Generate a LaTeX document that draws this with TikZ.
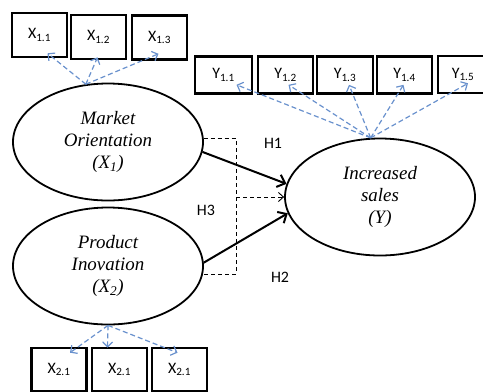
\documentclass[tikz,border=0pt]{standalone}
\usepackage{fontspec}
\setmainfont{Liberation Serif}
\newfontfamily\boxfont{Carlito}
\usetikzlibrary{arrows.meta,shapes.geometric}
\begin{document}
\begin{tikzpicture}[x=1bp,y=-1bp,
  ind/.style={draw,line width=2.6bp,minimum width=55bp,minimum height=44bp,inner sep=0pt,font=\boxfont\fontsize{16}{18}\selectfont},
  lat/.style={draw,ellipse,line width=1.8bp,minimum width=190bp,minimum height=117bp,inner sep=0pt,align=center,font=\itshape\fontsize{19}{22}\selectfont},
  load/.style={draw={rgb,255:red,105;green,145;blue,205},dashed,dash pattern=on 5bp off 3bp,line width=1.2bp,-{Straight Barb[length=5bp,width=10bp]}},
  causal/.style={line width=2bp,-{Straight Barb[length=7bp,width=13bp]}},
  hdash/.style={dashed,dash pattern=on 4bp off 3bp,line width=0.9bp},
  hlab/.style={font=\boxfont\fontsize{16}{18}\selectfont}
]
\useasboundingbox (0,0) rectangle (483,391);
% indicator boxes X1
\node[ind] (x11) at (39.5,35) {X\textsubscript{1.1}};
\node[ind] (x12) at (98.5,37) {X\textsubscript{1.2}};
\node[ind] (x13) at (159.5,37.5) {X\textsubscript{1.3}};
% indicator boxes Y
\node[ind,minimum width=57bp,minimum height=37bp] (y11) at (223.5,75) {Y\textsubscript{1.1}};
\node[ind,minimum width=55bp,minimum height=37bp] (y12) at (285.5,75) {Y\textsubscript{1.2}};
\node[ind,minimum width=56bp,minimum height=37bp] (y13) at (345,75) {Y\textsubscript{1.3}};
\node[ind,minimum width=55bp,minimum height=37bp] (y14) at (404.5,75) {Y\textsubscript{1.4}};
\node[ind,minimum width=50bp,minimum height=37bp] (y15) at (463,74.5) {Y\textsubscript{1.5}};
% indicator boxes X2
\node[ind,minimum height=43bp] (x21) at (59,369.5) {X\textsubscript{2.1}};
\node[ind,minimum height=43bp] (x22) at (119.5,369.5) {X\textsubscript{2.1}};
\node[ind,minimum height=43bp] (x23) at (179.5,369.5) {X\textsubscript{2.1}};
% latent variables
\node[lat] (mo) at (108,142) {Market\\Orientation\\(X\textsubscript{1})};
\node[lat] (pi) at (108,266) {Product\\Inovation\\(X\textsubscript{2})};
\node[lat] (is) at (380,197) {Increased\\sales\\(Y)};
% loadings
\coordinate (ms) at (mo.111);
\draw[load] (ms) -- ([xshift=8bp,yshift=5bp]x11.south);
\draw[load] (ms) -- ([xshift=-1bp,yshift=3bp]x12.south);
\draw[load] (ms) -- ([xshift=-1bp,yshift=7bp]x13.south);
\coordinate (ys) at (is.99);
\draw[load] (ys) -- ([xshift=13bp,yshift=10bp]y11.south);
\draw[load] (ys) -- ([xshift=3bp,yshift=10bp]y12.south);
\draw[load] (ys) -- ([xshift=4bp,yshift=10bp]y13.south);
\draw[load] (ys) -- ([xshift=-1bp,yshift=10bp]y14.south);
\draw[load] (ys) -- ([xshift=5bp,yshift=11bp]y15.south);
\draw[load] (pi.south) -- ([xshift=11bp,yshift=-6bp]x21.north);
\draw[load] (pi.south) -- ([xshift=-12bp,yshift=-1bp]x22.north);
\draw[load] (pi.south) -- ([xshift=-2bp,yshift=-6bp]x23.north);
% structural paths
\draw[causal] (mo.-6) -- (is.172);
\draw[causal] (pi.2) -- (is.190);
% H3 bracket
\coordinate (bx) at (236,0);
\draw[hdash] (mo.2) -- (mo.2 -| bx) -- (pi.-5 -| bx) -- (pi.-5);
\draw[hdash,-{Straight Barb[length=5bp,width=9bp]}] (bx |- is.west) -- (is.west);
% labels
\node[hlab] (h1) at (273,143) {H1};
\node[hlab] (h3) at (206,210) {H3};
\node[hlab] (h2) at (280,277) {H2};
\end{tikzpicture}
\end{document}
